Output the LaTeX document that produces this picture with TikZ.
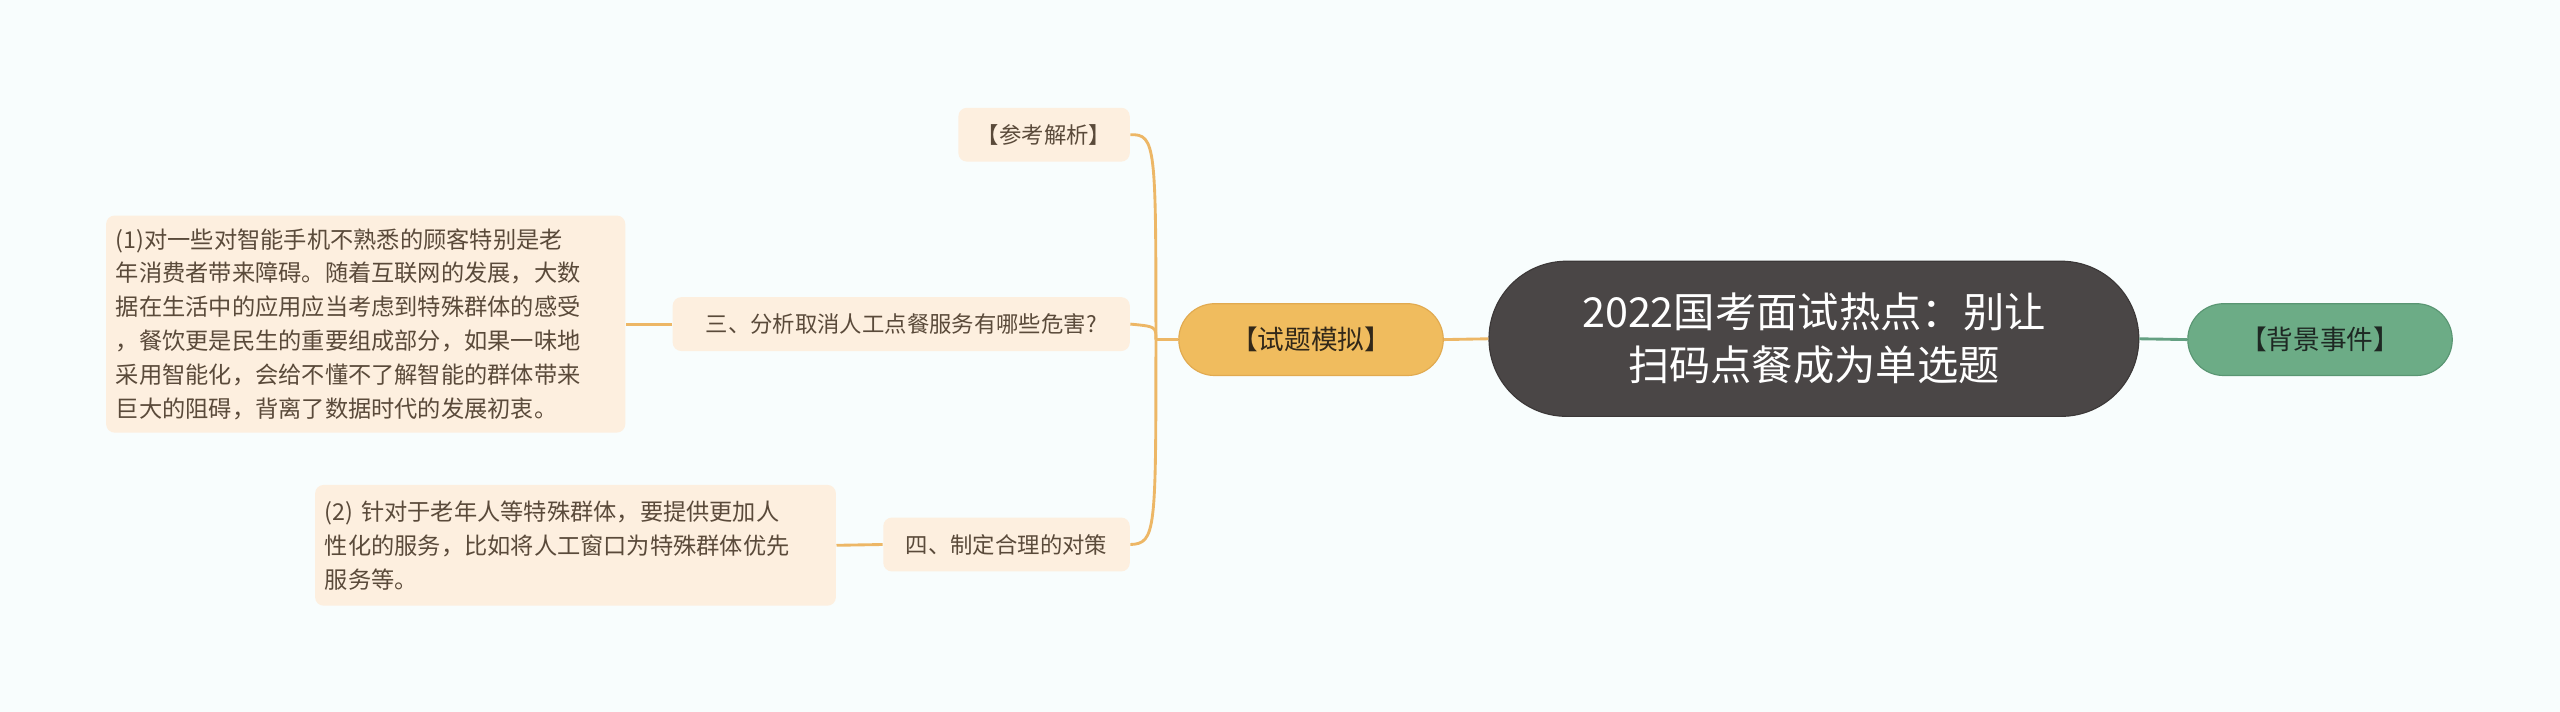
\documentclass[tikz,border=0pt]{standalone}
\usepackage{fontspec}
\usetikzlibrary{shapes.misc}
\setmainfont{Noto Sans CJK SC}
\begin{document}
\begin{tikzpicture}[x=0.02cm,y=-0.02cm,
  leaf/.style={fill=leaffill,rounded corners=3pt,inner sep=0pt,text=leaftext,font=\fontsize{7.8pt}{11pt}\selectfont},
  para/.style={leaf,font=\fontsize{8.1pt}{11.8pt}\selectfont,align=left,text width=#1*0.02cm},
  pill/.style={rounded rectangle,inner sep=0pt},
  conn/.style={draw=lineor,line width=1pt}]
\definecolor{bg}{HTML}{F8FDFD}
\definecolor{leaffill}{HTML}{FDEFDF}
\definecolor{leaftext}{HTML}{5A4A3A}
\definecolor{lineor}{HTML}{EDB766}
\fill[bg] (0,0) rectangle (1568,436);
\node[pill,fill={rgb,255:red,74;green,70;blue,70},draw={rgb,255:red,60;green,56;blue,56},minimum width=398*0.02cm,minimum height=95*0.02cm,text=white,align=center,font=\fontsize{14.4pt}{18.5pt}\selectfont] (c) at (1111,207.5) {2022国考面试热点：别让\\扫码点餐成为单选题};
\node[pill,fill={rgb,255:red,108;green,172;blue,134},draw={rgb,255:red,90;green,150;blue,115},minimum width=162*0.02cm,minimum height=44*0.02cm,font=\fontsize{9.3pt}{11pt}\selectfont,text={rgb,255:red,30;green,40;blue,35}] (g) at (1421,208) {【背景事件】};
\node[pill,fill={rgb,255:red,240;green,188;blue,94},draw={rgb,255:red,225;green,170;blue,80},minimum width=162*0.02cm,minimum height=44*0.02cm,font=\fontsize{9.3pt}{11pt}\selectfont,text={rgb,255:red,50;green,40;blue,25}] (o) at (803,208) {【试题模拟】};
\draw[draw={rgb,255:red,100;green,160;blue,130},line width=1pt] (c.east) -- (g.west);
\draw[conn] (c.west) -- (o.east);
\node[leaf,minimum width=105*0.02cm,minimum height=33*0.02cm] (a) at (639.5,82.5) {【参考解析】};
\node[leaf,minimum width=280*0.02cm,minimum height=33*0.02cm] (b) at (552,198.5) {三、分析取消人工点餐服务有哪些危害?};
\node[leaf,minimum width=151*0.02cm,minimum height=33*0.02cm] (d) at (616.5,333.5) {四、制定合理的对策};
\node[para=306,minimum height=133*0.02cm,inner xsep=6*0.02cm] (b1) at (224,198.5) {(1)对一些对智能手机不熟悉的顾客特别是老\\年消费者带来障碍。随着互联网的发展，大数\\据在生活中的应用应当考虑到特殊群体的感受\\，餐饮更是民生的重要组成部分，如果一味地\\采用智能化，会给不懂不了解智能的群体带来\\巨大的阻碍，背离了数据时代的发展初衷。};
\node[para=307,minimum height=74*0.02cm,inner xsep=6*0.02cm] (d1) at (352.5,334) {(2) 针对于老年人等特殊群体，要提供更加人\\性化的服务，比如将人工窗口为特殊群体优先\\服务等。};
\coordinate (j) at (708,208);
\draw[conn] (o.west) -- (j);
\draw[conn] (j) .. controls (708,90) and (708,82) .. (a.east);
\draw[conn] (j) .. controls (708,200) .. (b.east);
\draw[conn] (j) .. controls (708,325) and (708,333) .. (d.east);
\draw[conn] (b.west) -- (b1.east);
\draw[conn] (d.west) -- (d1.east);
\end{tikzpicture}
\end{document}
